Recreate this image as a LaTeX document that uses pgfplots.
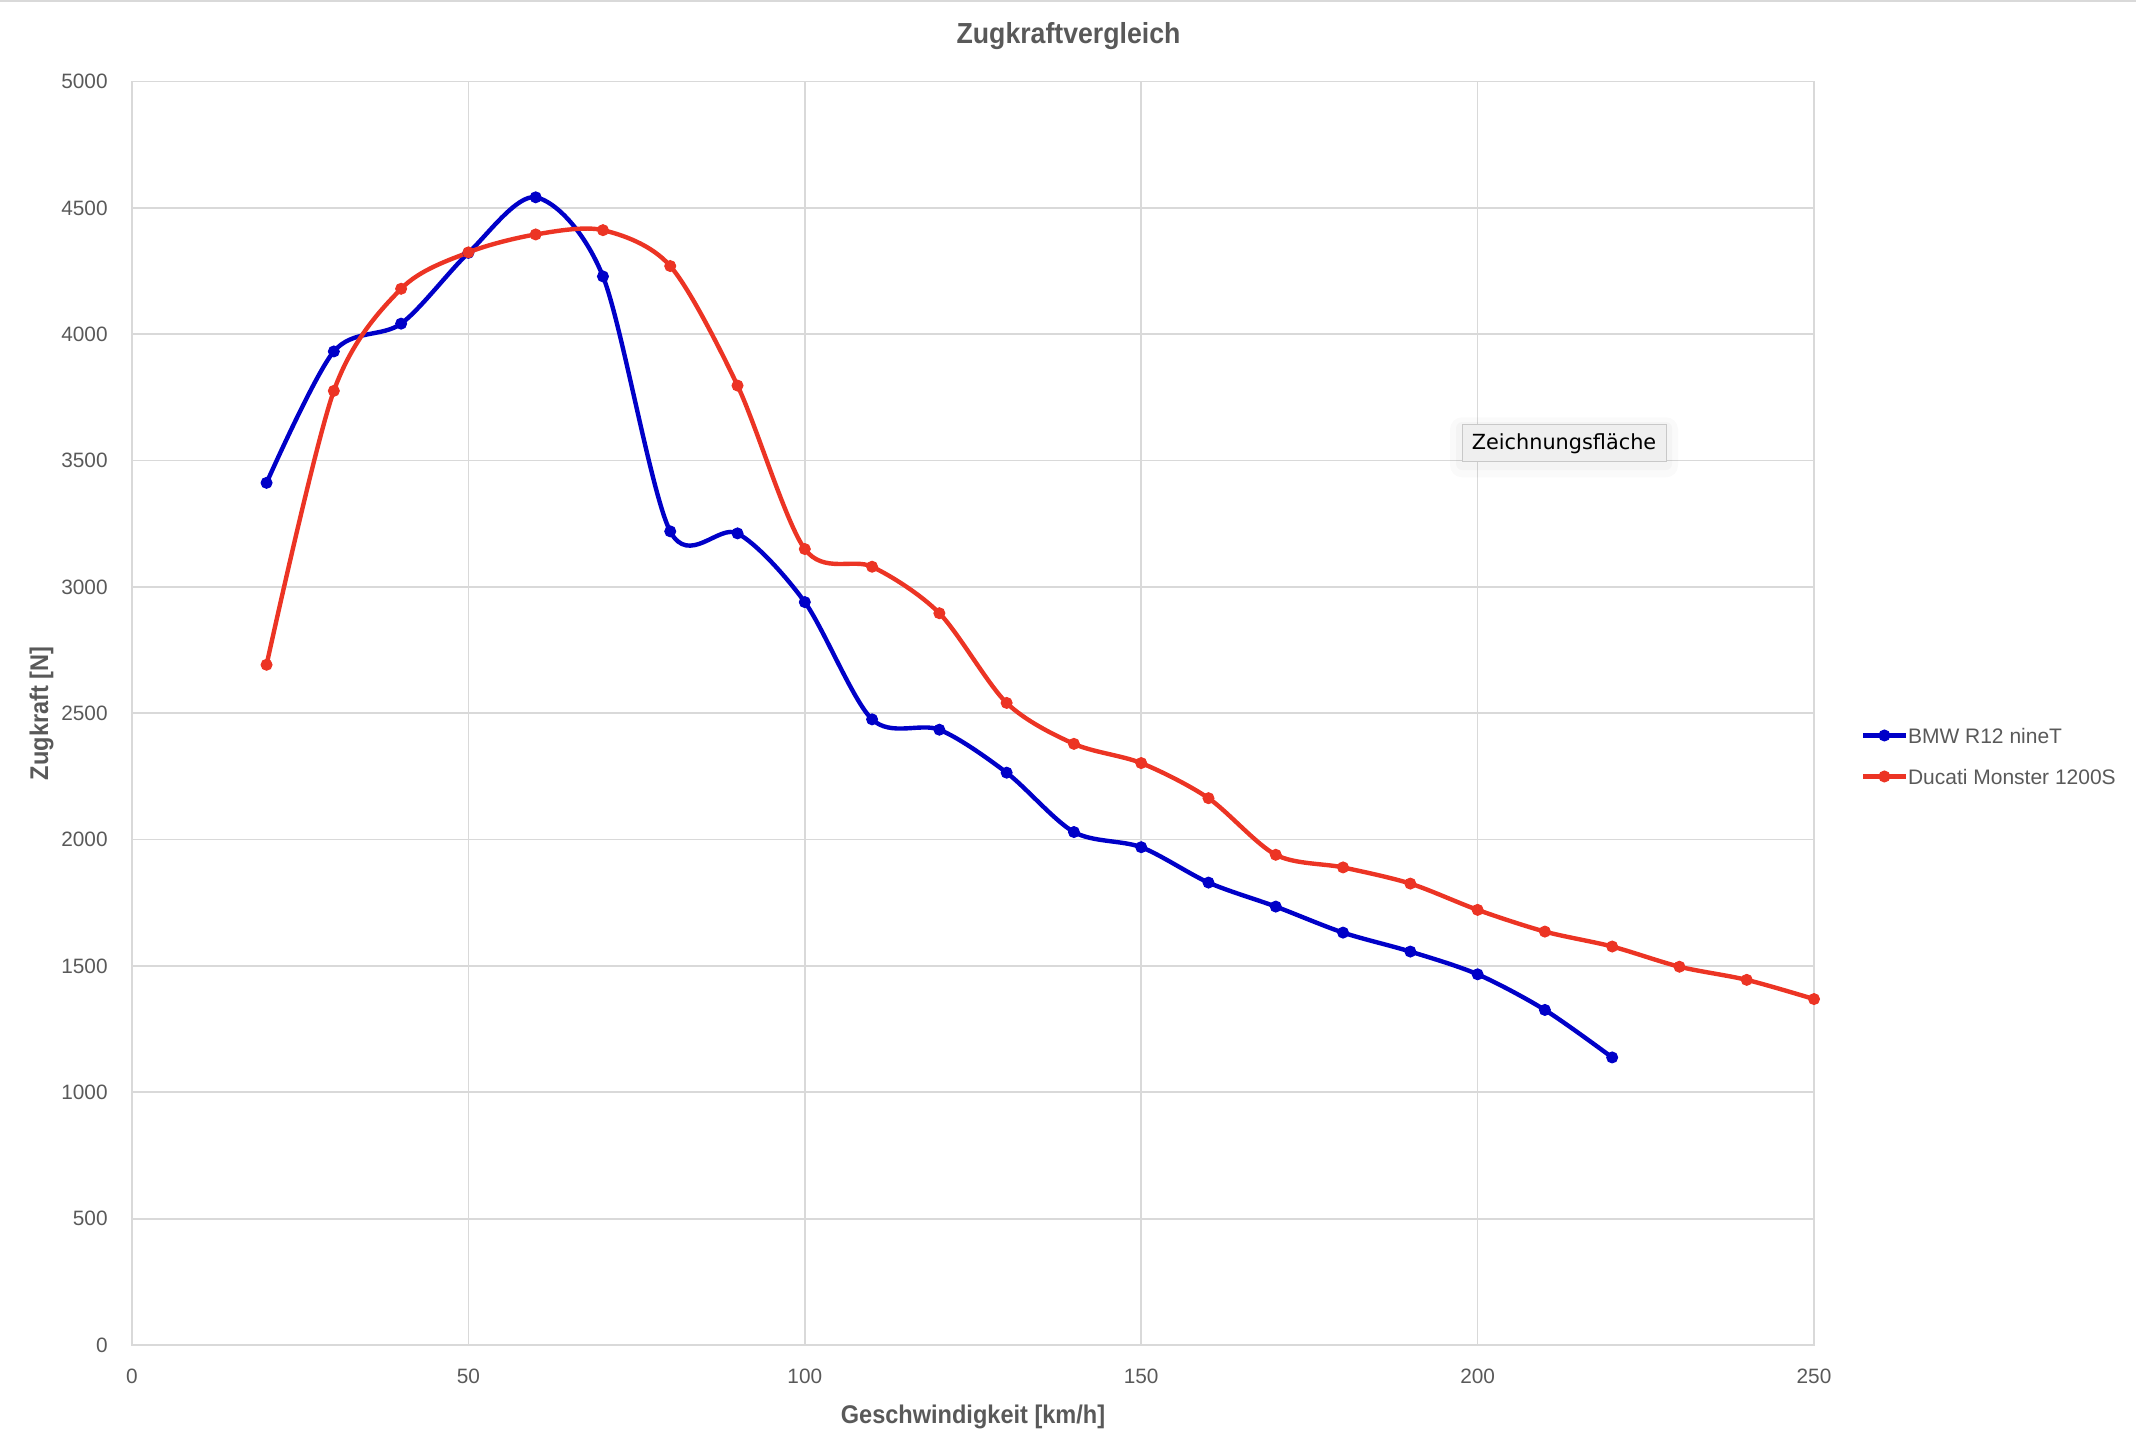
\documentclass[border=0pt]{standalone}
\usepackage{pgfplots}
\pgfplotsset{compat=1.18}
\usepackage{fontspec}
\setmainfont{Liberation Sans}
\newfontfamily\boldnarrow[FakeStretch=0.92]{Liberation Sans}
\newfontfamily\tipfont{DejaVu Sans}
\definecolor{textgray}{RGB}{89,89,89}
\definecolor{gridgray}{RGB}{217,217,217}
\definecolor{bmwblue}{RGB}{0,0,200}
\definecolor{ducred}{RGB}{236,52,36}
\begin{document}
\begin{tikzpicture}
\useasboundingbox (0,0) rectangle (1068pt,727pt);
\draw[gridgray, line width=2pt] (0,727pt) -- (1068pt,727pt);
\begin{axis}[
  at={(66pt,54.5pt)}, anchor=south west,
  scale only axis, width=841pt, height=631.7pt,
  xmin=0, xmax=250, ymin=0, ymax=5000,
  xtick={0,50,...,250}, ytick={0,500,...,5000},
  grid=major,
  major grid style={gridgray, line width=0.85pt},
  axis line style={gridgray, line width=0.85pt},
  major tick length=0pt,
  /pgf/number format/assume math mode=true,
  /pgf/number format/1000 sep={},
  tick label style={font=\fontsize{10.4}{12}\selectfont, text=textgray, inner sep=0pt},
  xticklabel style={anchor=base, yshift=-19.3pt},
  yticklabel style={anchor=east, xshift=-12pt},
  every axis title shift=0pt,
  title={\boldnarrow\bfseries\fontsize{14.5}{16}\selectfont Zugkraftvergleich},
  title style={at={(axis description cs:0.5568,1.0301)}, anchor=base, text=textgray, inner sep=0pt},
  xlabel={\boldnarrow\bfseries\fontsize{12.8}{14}\selectfont Geschwindigkeit [km/h]},
  xlabel style={at={(axis description cs:0.5,-0.0618)}, anchor=base, text=textgray, inner sep=0pt},
  ylabel={\boldnarrow\bfseries\fontsize{12.8}{14}\selectfont Zugkraft [N]},
  ylabel style={at={(axis description cs:-0.0538,0.5)}, anchor=center, text=textgray, inner sep=0pt},
  legend style={at={(axis description cs:1,0.4662)}, anchor=west, xshift=24.5pt,
    draw=none, fill=none, inner sep=0pt,
    font=\fontsize{10.5}{12}\selectfont, text=textgray,
    row sep=12.9pt,
    nodes={inner sep=0pt, text height=7.6pt, text depth=0pt, anchor=west}},
  legend cell align=left,
  legend image code/.code={\path[draw=none, fill=none] (0pt,-2.5pt) rectangle (22.3pt,2.5pt);
    \draw[#1, overlay, mark repeat=2, mark phase=2] plot coordinates {(0pt,0pt) (10.5pt,0pt) (21pt,0pt)};},
]
\addplot[bmwblue, line width=2.2pt, smooth, tension=0.5, mark=*, mark size=2.75pt, mark options={fill=bmwblue, draw=bmwblue, line width=0.5pt}] coordinates {
(20,3412) (30,3932) (40,4042) (50,4322) (60,4542) (70,4229) (80,3220) (90,3212)
(100,2940) (110,2476) (120,2435) (130,2265) (140,2030) (150,1970) (160,1830)
(170,1735) (180,1632) (190,1557) (200,1467) (210,1326) (220,1138)
};
\addlegendentry{BMW R12 nineT}
\addplot[ducred, line width=2.2pt, smooth, tension=0.5, mark=*, mark size=2.75pt, mark options={fill=ducred, draw=ducred, line width=0.5pt}] coordinates {
(20,2692) (30,3776) (40,4180) (50,4324) (60,4395) (70,4412) (80,4270) (90,3797)
(100,3150) (110,3080) (120,2896) (130,2541) (140,2379) (150,2303) (160,2164)
(170,1940) (180,1890) (190,1826) (200,1722) (210,1636) (220,1577) (230,1497)
(240,1445) (250,1369)
};
\addlegendentry{Ducati Monster 1200S}
\node[fill=black, opacity=0.02, minimum width=114pt, minimum height=30pt, rounded corners=6pt, inner sep=0pt] at (rel axis cs:0.8514,0.7105) {};
\node[fill=black, opacity=0.025, minimum width=108pt, minimum height=24pt, rounded corners=3pt, inner sep=0pt] at (rel axis cs:0.8514,0.7115) {};
\node[fill={rgb,255:red,239;green,239;blue,239}, draw={rgb,255:red,200;green,200;blue,200}, line width=0.5pt,
  minimum width=102pt, minimum height=18.5pt, inner sep=0pt, font=\tipfont\fontsize{10.4}{12}\selectfont, text=black]
  at (rel axis cs:0.8514,0.7136) {Zeichnungsfläche};
\end{axis}
\end{tikzpicture}
\end{document}
